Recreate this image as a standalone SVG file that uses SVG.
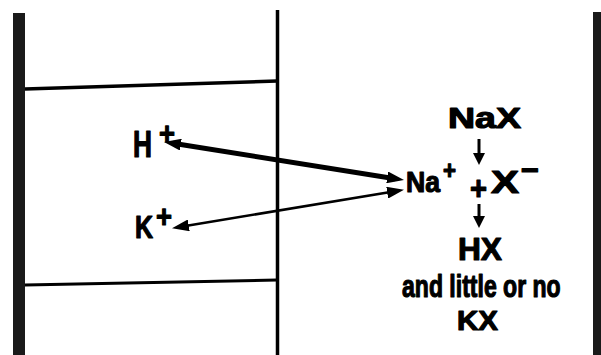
<svg xmlns="http://www.w3.org/2000/svg" width="601" height="355" viewBox="0 0 601 355">
<style>
.t{font-family:"Liberation Sans","DejaVu Sans",sans-serif;font-weight:bold;fill:#000;stroke:#000;stroke-width:1.2;stroke-linejoin:round}
.ln{stroke:#000;fill:none}
.wall{fill:#1a1a1a}
</style>
<defs>
<marker id="ah" viewBox="0 0 17 12" refX="8" refY="6" markerWidth="17" markerHeight="12" markerUnits="userSpaceOnUse" orient="auto-start-reverse">
<path d="M0,0 L17,6 L0,12 z" fill="#000"/>
</marker>
<marker id="ahs" viewBox="0 0 12 12" refX="6" refY="6" markerWidth="12" markerHeight="12" markerUnits="userSpaceOnUse" orient="auto">
<path d="M0,0 L12,6 L0,12 z" fill="#000"/>
</marker>
</defs>
<rect width="601" height="355" fill="#fff"/>
<g id="structure">
<rect class="wall" x="13" y="13" width="12" height="342"/>
<rect class="wall" x="593" y="12" width="8" height="343"/>
<line class="ln" x1="277.5" y1="10" x2="277.5" y2="355" stroke-width="3.5"/>
<line class="ln" x1="25" y1="89" x2="277" y2="81" stroke-width="3.5"/>
<line class="ln" x1="25" y1="285" x2="277" y2="280" stroke-width="3"/>
</g>
<g id="node-H">
<text class="t" x="133" y="157" font-size="37" textLength="19" lengthAdjust="spacingAndGlyphs">H</text>
<text class="t" x="159" y="143.5" font-size="32" textLength="16" lengthAdjust="spacingAndGlyphs">+</text>
</g>
<g id="node-K">
<text class="t" x="135" y="238" font-size="32" textLength="18" lengthAdjust="spacingAndGlyphs">K</text>
<text class="t" x="156" y="227" font-size="32" textLength="16" lengthAdjust="spacingAndGlyphs">+</text>
</g>
<g id="node-NaX">
<text class="t" x="448" y="128" font-size="30" textLength="73" lengthAdjust="spacingAndGlyphs">NaX</text>
</g>
<g id="node-ions">
<text class="t" x="406" y="192" font-size="30" textLength="34" lengthAdjust="spacingAndGlyphs">Na</text>
<text class="t" x="443" y="179" font-size="26" textLength="13" lengthAdjust="spacingAndGlyphs">+</text>
<text class="t" x="470" y="200" font-size="34" textLength="17" lengthAdjust="spacingAndGlyphs">+</text>
<text class="t" x="491" y="193" font-size="31" textLength="28" lengthAdjust="spacingAndGlyphs">X</text>
<text class="t" x="521" y="180" font-size="30" textLength="18" lengthAdjust="spacingAndGlyphs">−</text>
</g>
<g id="node-HX">
<text class="t" x="458" y="260" font-size="32" textLength="44" lengthAdjust="spacingAndGlyphs">HX</text>
</g>
<g id="node-note">
<text class="t" transform="translate(402,297) scale(0.72,1)" x="0" y="0" font-size="32">and little or no</text>
<text class="t" x="457" y="330" font-size="28" textLength="41" lengthAdjust="spacingAndGlyphs">KX</text>
</g>
<g id="connectors">
<line class="ln" x1="172.9" y1="143.3" x2="395.1" y2="178.7" stroke-width="5" marker-start="url(#ah)" marker-end="url(#ah)"/>
<line class="ln" x1="180.9" y1="226.7" x2="395.1" y2="191.3" stroke-width="2.5" marker-start="url(#ah)" marker-end="url(#ah)"/>
<line class="ln" x1="479" y1="139" x2="479" y2="159" stroke-width="3" marker-end="url(#ahs)"/>
<line class="ln" x1="479" y1="204" x2="479" y2="222" stroke-width="3" marker-end="url(#ahs)"/>
</g>
</svg>
